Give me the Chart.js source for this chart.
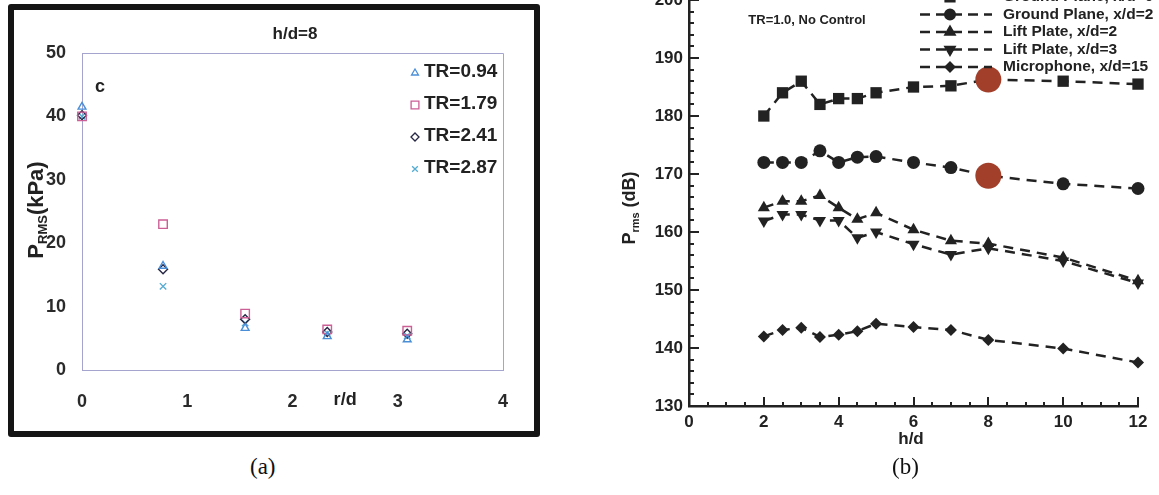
<!DOCTYPE html>
<html>
<head>
<meta charset="utf-8">
<script src="https://cdn.jsdelivr.net/npm/chart.js@4.4.0/dist/chart.umd.min.js"></script>
<style>
  body { margin: 0; width: 1159px; height: 495px; background: #fff; position: relative; overflow: hidden; font-family: "Liberation Sans", Arial, sans-serif; }
  #frameA { position: absolute; left: 8px; top: 4px; width: 520px; height: 421px; border: 6px solid #151515; border-radius: 3px; }
  #chartA { position: absolute; left: 0; top: 0; }
  #chartB { position: absolute; left: 560px; top: -20px; }
  .cap { position: absolute; top: 454px; font-family: "Liberation Serif", "Times New Roman", serif; font-size: 23px; color: #111; }
</style>
</head>
<body>
<div id="frameA"><canvas id="chartA" width="520" height="420"></canvas></div>
<canvas id="chartB" width="599" height="490"></canvas>
<div class="cap" style="left:250px">(a)</div>
<div class="cap" style="left:892px">(b)</div>

<script>
// ---- panel (a): P_RMS vs r/d, h/d=8
const rdA = [0, 0.77, 1.55, 2.33, 3.09];
const tr094 = [41.5, 16.4, 6.6, 5.3, 4.8];
const tr179 = [40, 23, 8.9, 6.4, 6.2];
const tr241 = [40.2, 15.9, 8.0, 6.0, 5.7];
const tr287 = [40, 13.2, 7.4, 5.8, 5.4];
const labelsA = ["TR=0.94", "TR=1.79", "TR=2.41", "TR=2.87"];
const ticksAx = [0, 1, 2, 3, 4];
const ticksAy = [0, 10, 20, 30, 40, 50];

// ---- panel (b): P_rms (dB) vs h/d, TR=1.0 no control
const hd = [2, 2.5, 3, 3.5, 4, 4.5, 5, 6, 7, 8, 10, 12];
const groundPlane0 = [180, 184, 186, 182, 183, 183, 184, 185, 185.2, 186.3, 186, 185.5];
const groundPlane2 = [172, 172, 172, 174, 172, 172.9, 173, 172, 171.1, 169.7, 168.3, 167.5];
const liftPlate2 = [164.2, 165.3, 165.3, 166.3, 164.2, 162.2, 163.3, 160.4, 158.5, 158, 155.6, 151.6];
const liftPlate3 = [161.9, 163, 163, 162, 162, 159, 160, 157.9, 156.1, 157.2, 155, 151.2];
const microphone15 = [142, 143.1, 143.5, 141.9, 142.3, 142.9, 144.2, 143.6, 143.1, 141.4, 139.9, 137.5];
const highlightX = [8, 8];
const highlightY = [186.3, 169.7];
const labelsB = ["Ground Plane, x/d=0", "Ground Plane, x/d=2", "Lift Plate, x/d=2", "Lift Plate, x/d=3", "Microphone, x/d=15"];

const FONT = '"Liberation Sans", Arial, sans-serif';

function pts(xs, ys) {
  return xs.map((x, i) => ({ x: x, y: ys[i] }));
}

function marker(ctx, opts, x, y) {
  if (Chart.helpers && Chart.helpers.drawPoint) {
    Chart.helpers.drawPoint(ctx, opts, x, y);
  }
}

// vertical text with a subscript, e.g. P_RMS(kPa)
function drawRotTitle(ctx, cx, cy, parts) {
  ctx.save();
  let total = 0;
  parts.forEach((p) => {
    ctx.font = "bold " + p.size + "px " + FONT;
    p.w = ctx.measureText(p.text).width;
    total += p.w;
  });
  ctx.translate(cx, cy);
  ctx.rotate(-Math.PI / 2);
  let x = -total / 2;
  ctx.fillStyle = "#222";
  ctx.textBaseline = "alphabetic";
  parts.forEach((p) => {
    ctx.font = "bold " + p.size + "px " + FONT;
    ctx.fillText(p.text, x, p.dy);
    x += p.w;
  });
  ctx.restore();
}

const colorsA = ["#4b8ed8", "#cc5f95", "#262645", "#55acd2"];
const stylesA = [
  { pointStyle: "triangle", radius: 4.5, rotation: 0 },
  { pointStyle: "rect", radius: 6, rotation: 0 },
  { pointStyle: "rectRot", radius: 4.5, rotation: 0 },
  { pointStyle: "crossRot", radius: 4.5, rotation: 0 }
];
const seriesA = [tr094, tr179, tr241, tr287];

const panelAPlugin = {
  id: "panelA",
  beforeDatasetsDraw(chart) {
    const { ctx, chartArea } = chart;
    ctx.save();
    ctx.strokeStyle = "#a4a4cf";
    ctx.lineWidth = 1;
    ctx.beginPath();
    ctx.moveTo(chartArea.left, chartArea.top + 0.5);
    ctx.lineTo(chartArea.right + 0.5, chartArea.top + 0.5);
    ctx.lineTo(chartArea.right + 0.5, chartArea.bottom);
    ctx.stroke();
    ctx.restore();
  },
  afterDraw(chart) {
    const { ctx, scales } = chart;
    ctx.save();
    ctx.fillStyle = "#222";
    ctx.textAlign = "center";
    ctx.textBaseline = "middle";
    ctx.font = "bold 17px " + FONT;
    ctx.fillText("h/d=8", 281, 24);
    ctx.font = "bold 18px " + FONT;
    ctx.fillText("c", 86, 77);
    ctx.font = "bold 18px " + FONT;
    ctx.fillText("r/d", scales.x.getPixelForValue(2.5), 390);
    // legend
    labelsA.forEach((lab, i) => {
      const y = 62 + i * 32;
      ctx.strokeStyle = colorsA[i];
      ctx.fillStyle = "rgba(0,0,0,0)";
      ctx.lineWidth = 1.3;
      const st = stylesA[i];
      marker(ctx, { pointStyle: st.pointStyle, radius: st.radius - 0.5, rotation: 0, borderWidth: 1.3 }, 401, y + 1);
      ctx.fillStyle = "#222";
      ctx.textAlign = "left";
      ctx.font = "bold 19px " + FONT;
      ctx.fillText(lab, 410, y);
    });
    ctx.restore();
    drawRotTitle(ctx, 29, 200, [
      { text: "P", size: 22, dy: 0 },
      { text: "RMS", size: 13, dy: 4 },
      { text: "(kPa)", size: 22, dy: 0 }
    ]);
  }
};

new Chart(document.getElementById("chartA"), {
  type: "scatter",
  data: {
    datasets: seriesA.map((s, i) => ({
      label: labelsA[i],
      data: pts(rdA, s),
      pointStyle: stylesA[i].pointStyle,
      pointRadius: stylesA[i].radius,
      pointBorderWidth: 1.4,
      borderColor: colorsA[i],
      backgroundColor: "rgba(0,0,0,0)",
      clip: false
    }))
  },
  options: {
    responsive: false,
    animation: false,
    events: [],
    layout: { padding: { top: 43, right: 31, left: 0, bottom: 0 } },
    plugins: { legend: { display: false }, tooltip: { enabled: false } },
    scales: {
      x: {
        type: "linear", min: 0, max: 4,
        afterFit: (s) => { s.height = 60; },
        afterBuildTicks: (s) => { s.ticks = ticksAx.map((v) => ({ value: v })); },
        grid: { display: true, drawOnChartArea: false, drawTicks: false },
        border: { color: "#a4a4cf", width: 1 },
        ticks: { padding: 21, color: "#2a2a2a", font: { family: FONT, size: 18, weight: "bold" } }
      },
      y: {
        type: "linear", min: 0, max: 50,
        afterFit: (s) => { s.width = 68; },
        afterBuildTicks: (s) => { s.ticks = ticksAy.map((v) => ({ value: v })); },
        grid: { display: true, drawOnChartArea: false, drawTicks: false },
        border: { color: "#a4a4cf", width: 1 },
        ticks: { padding: 16, color: "#2a2a2a", font: { family: FONT, size: 18, weight: "bold" } }
      }
    }
  },
  plugins: [panelAPlugin]
});

// ---- panel (b)
const seriesB = [groundPlane0, groundPlane2, liftPlate2, liftPlate3, microphone15];
const stylesB = [
  { pointStyle: "rect", radius: 8, rotation: 0 },
  { pointStyle: "circle", radius: 6.5, rotation: 0 },
  { pointStyle: "triangle", radius: 7, rotation: 0 },
  { pointStyle: "triangle", radius: 7, rotation: 180 },
  { pointStyle: "rectRot", radius: 6, rotation: 0 }
];

const panelBPlugin = {
  id: "panelB",
  afterDraw(chart) {
    const { ctx, scales, chartArea } = chart;
    const xs = scales.x, ys = scales.y;
    ctx.save();
    ctx.strokeStyle = "#222";
    ctx.lineWidth = 2;
    ctx.beginPath();
    for (let v = 0; v <= 12.001; v += 0.5) {
      const px = Math.round(xs.getPixelForValue(v));
      const len = (v % 2 === 0) ? 9 : 4;
      ctx.moveTo(px, chartArea.bottom);
      ctx.lineTo(px, chartArea.bottom - len);
    }
    for (let v = 130; v <= 200; v += 2) {
      const py = Math.round(ys.getPixelForValue(v));
      const len = (v % 10 === 0) ? 10 : 5;
      ctx.moveTo(chartArea.left, py);
      ctx.lineTo(chartArea.left + len, py);
    }
    ctx.stroke();

    ctx.fillStyle = "#222";
    ctx.textBaseline = "middle";
    ctx.textAlign = "center";
    ctx.font = "bold 17px " + FONT;
    ctx.fillText("h/d", 351, 459);
    ctx.font = "bold 13px " + FONT;
    ctx.fillText("TR=1.0, No Control", 247, 40);

    // legend
    labelsB.forEach((lab, i) => {
      const y = 17 + i * 17.5;
      ctx.save();
      ctx.strokeStyle = "#222";
      ctx.lineWidth = 2.5;
      ctx.setLineDash([10, 6]);
      ctx.beginPath();
      ctx.moveTo(360, y);
      ctx.lineTo(432, y);
      ctx.stroke();
      ctx.restore();
      const st = stylesB[i];
      ctx.fillStyle = "#222";
      ctx.strokeStyle = "#222";
      marker(ctx, { pointStyle: st.pointStyle, radius: st.radius - 1.5, rotation: st.rotation, borderWidth: 1 }, 390, y);
      ctx.fillStyle = "#222";
      ctx.textAlign = "left";
      ctx.font = "bold 15.5px " + FONT;
      ctx.fillText(lab, 443, y);
    });
    ctx.restore();

    drawRotTitle(ctx, 75, 228, [
      { text: "P", size: 18, dy: 0 },
      { text: "rms", size: 11, dy: 4 },
      { text: " (dB)", size: 18, dy: 0 }
    ]);
  }
};

const dsB = [{
  label: "",
  data: pts(highlightX, highlightY),
  pointStyle: "circle",
  pointRadius: 13,
  pointBorderWidth: 0,
  backgroundColor: "#a23f2a",
  borderColor: "#a23f2a",
  showLine: false,
  clip: false
}].concat(seriesB.map((s, i) => ({
  label: labelsB[i],
  data: pts(hd, s),
  showLine: true,
  borderColor: "#222",
  borderWidth: 2.5,
  borderDash: [10, 7],
  backgroundColor: "#222",
  pointStyle: stylesB[i].pointStyle,
  pointRotation: stylesB[i].rotation,
  pointRadius: stylesB[i].radius,
  pointBorderWidth: 0,
  clip: false
})));

new Chart(document.getElementById("chartB"), {
  type: "scatter",
  data: { datasets: dsB },
  options: {
    responsive: false,
    animation: false,
    events: [],
    layout: { padding: { top: 20, right: 21, left: 0, bottom: 0 } },
    plugins: { legend: { display: false }, tooltip: { enabled: false } },
    scales: {
      x: {
        type: "linear", min: 0, max: 12,
        afterFit: (s) => { s.height = 64; },
        ticks: { stepSize: 2, padding: 6, color: "#222", font: { family: FONT, size: 17, weight: "bold" } },
        grid: { display: true, drawOnChartArea: false, drawTicks: false },
        border: { color: "#222", width: 2.5 }
      },
      y: {
        type: "linear", min: 130, max: 200,
        afterFit: (s) => { s.width = 129; },
        ticks: { stepSize: 10, padding: 6, color: "#222", font: { family: FONT, size: 17, weight: "bold" } },
        grid: { display: true, drawOnChartArea: false, drawTicks: false },
        border: { color: "#222", width: 2.5 }
      }
    }
  },
  plugins: [panelBPlugin]
});
</script>
</body>
</html>
